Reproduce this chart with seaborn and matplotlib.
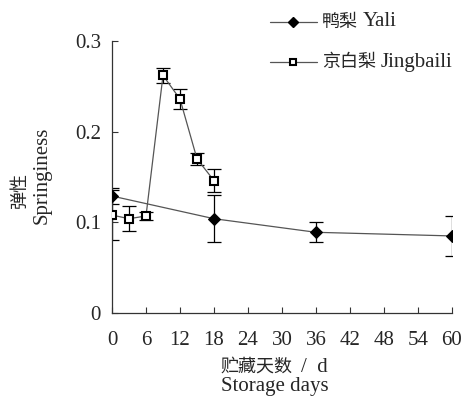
import numpy as np
import pandas as pd
import matplotlib
matplotlib.use("Agg")
import matplotlib.pyplot as plt
import seaborn as sns
from matplotlib.lines import Line2D

# Dati
yali_days = [0, 18, 36, 60]
yali_val = [0.129, 0.104, 0.089, 0.085]
yali_err = [0.009, 0.026, 0.011, 0.022]

jing_days = [0, 3, 6, 9, 12, 15, 18]
jing_val = [0.108, 0.104, 0.107, 0.262, 0.236, 0.170, 0.146]
jing_err = [0.028, 0.014, 0.004, 0.008, 0.011, 0.007, 0.013]

x_ticks = list(range(0, 61, 6))
y_ticks = [0, 0.1, 0.2, 0.3]
y_tick_labels = ["0", "0.1", "0.2", "0.3"]

W, H = 464, 412
LATIN = 'Liberation Serif'
CJK = 'Noto Sans CJK SC'
FS_LAT = 15
FS_CJK = 13

sns.set_style("ticks")
plt.rcParams['font.family'] = [LATIN, CJK]

df = pd.concat([
    pd.DataFrame({'giorni': yali_days, 'valore': yali_val, 'serie': 'Yali'}),
    pd.DataFrame({'giorni': jing_days, 'valore': jing_val, 'serie': 'Jingbaili'}),
])

fig = plt.figure(figsize=(W / 100, H / 100), dpi=100)
ax = fig.add_axes([112 / W, 99 / H, 340 / W, 272 / H])

# Barre di errore sotto le linee
ax.errorbar(yali_days, yali_val, yerr=yali_err, fmt='none', ecolor='black',
            elinewidth=0.9, capsize=5, capthick=0.9, zorder=2)
ax.errorbar(jing_days, jing_val, yerr=jing_err, fmt='none', ecolor='black',
            elinewidth=0.9, capsize=5, capthick=0.9, zorder=2)

sns.lineplot(data=df, x='giorni', y='valore', hue='serie', style='serie',
             markers={'Yali': 'D', 'Jingbaili': 's'}, dashes=False,
             palette={'Yali': '#555555', 'Jingbaili': '#555555'},
             linewidth=0.9, ax=ax, zorder=3, legend=False)

# Marker: diamante pieno e quadrato vuoto
for ln in ax.get_lines():
    if ln.get_marker() == 'D':
        ln.set_markerfacecolor('black')
        ln.set_markeredgecolor('black')
        ln.set_markersize(6)
    elif ln.get_marker() == 's':
        ln.set_markerfacecolor('white')
        ln.set_markeredgecolor('black')
        ln.set_markeredgewidth(1.5)
        ln.set_markersize(5.5)

ax.set_xlim(0, 60)
ax.set_ylim(0, 0.3)
ax.set_xticks(x_ticks)
ax.set_yticks(y_ticks)
ax.set_yticklabels(y_tick_labels)
ax.tick_params(direction='in', length=4, width=0.8, labelsize=FS_LAT, color='#333333')
ax.tick_params(axis='x', pad=13)
ax.tick_params(axis='y', pad=8)
for s in ['top', 'right']:
    ax.spines[s].set_visible(False)
for s in ['left', 'bottom']:
    ax.spines[s].set_linewidth(0.9)
    ax.spines[s].set_color('#333333')
ax.set_xlabel('')
ax.set_ylabel('')


def fx(x):
    return x / W


def fy(y):
    return 1 - y / H


renderer = fig.canvas.get_renderer()


def mixed_text(x, y, cjk, lat, gap=5, ha='left'):
    # testo cinese + testo latino affiancati con dimensioni diverse
    t1 = fig.text(fx(x), fy(y), cjk, fontsize=FS_CJK, family=[CJK], va='center', ha='left')
    w1 = t1.get_window_extent(renderer).width
    t2 = fig.text(fx(x + w1 + gap), fy(y), lat, fontsize=FS_LAT, family=[LATIN], va='center', ha='left')
    w2 = t2.get_window_extent(renderer).width
    if ha == 'center':
        tot = w1 + gap + w2
        t1.set_x(fx(x - tot / 2))
        t2.set_x(fx(x - tot / 2 + w1 + gap))


# Etichette degli assi
mixed_text(274, 367, '贮藏天数', '/  d', gap=8, ha='center')
fig.text(fx(275), fy(386), 'Storage days', ha='center', va='center', fontsize=FS_LAT, family=[LATIN])
fig.text(fx(20), fy(190), '弹性', ha='center', va='center', rotation=90, fontsize=FS_CJK, family=[CJK])
fig.text(fx(42), fy(175), 'Springiness', ha='center', va='center', rotation=90, fontsize=FS_LAT, family=[LATIN])

# Legenda manuale
legend_rows = [(22, 'D', 'black', '鸭梨', 'Yali'), (62, 's', 'white', '京白梨', 'Jingbaili')]
for y, mk, face, cjk, lat in legend_rows:
    fig.add_artist(Line2D([fx(270), fx(317)], [fy(y), fy(y)], transform=fig.transFigure,
                          color='#555555', lw=0.9))
    fig.add_artist(Line2D([fx(293)], [fy(y)], transform=fig.transFigure, marker=mk,
                          markersize=5.5 if mk == 'D' else 5, markerfacecolor=face,
                          markeredgecolor='black', markeredgewidth=1.5 if mk == 's' else 1))
    mixed_text(322, y, cjk, lat, gap=5)

fig.savefig('out.png', dpi=100)
